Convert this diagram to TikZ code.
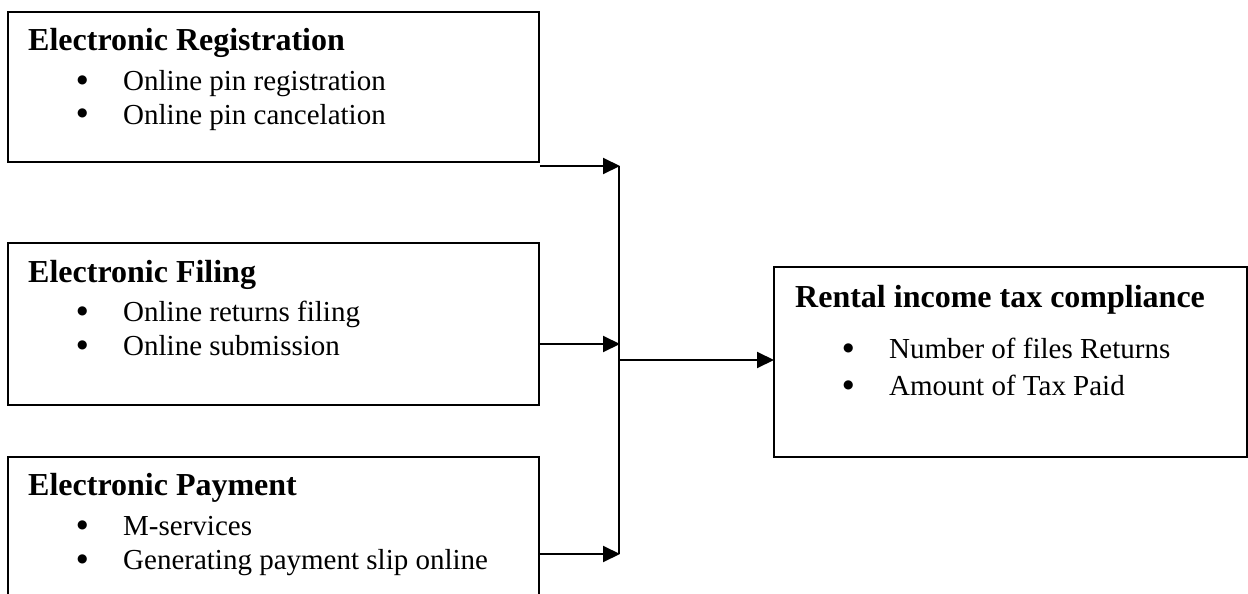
\documentclass[tikz,border=0pt]{standalone}
\usepackage{fontspec}
\setmainfont{Liberation Serif}
\newfontfamily\dejavu{DejaVu Sans}
\usetikzlibrary{arrows.meta}
\tikzset{
  box/.style={draw=black, line width=2pt, rectangle, inner sep=0pt, anchor=north west, fill=none},
  ttl/.style={inner sep=0pt, anchor=base west, font=\fontsize{32}{38}\selectfont\bfseries},
  itm/.style={inner sep=0pt, anchor=base west, font=\fontsize{29}{33}\selectfont},
  conn/.style={line width=2pt, draw=black},
  arr/.style={line width=2pt, draw=black, -{Triangle[length=17pt,width=16pt]}, shorten >=-1pt}
}
\newcommand{\bigdot}{\raisebox{7pt}{\dejavu\fontsize{12}{12}\selectfont ●}}
\newcommand{\bul}[1]{\makebox[46pt][l]{\bigdot}#1}
\begin{document}
\begin{tikzpicture}[x=1pt,y=-1pt]
\useasboundingbox (0,0) rectangle (1248,594);
\clip (0,0) rectangle (1248,594);
\fill[white] (0,0) rectangle (1248,594);

% boxes
\node[box, minimum width=531pt, minimum height=150pt] (b1) at (7,11) {};
\node[box, minimum width=531pt, minimum height=162pt] (b2) at (7,242) {};
\node[box, minimum width=531pt, minimum height=170pt] (b3) at (7,456) {};
\node[box, minimum width=473pt, minimum height=190pt] (b4) at (773,266) {};

% texts box 1
\node[ttl] (t1) at (28,51) {Electronic Registration};
\node[itm] (t1a) at (77,91) {\bul{Online pin registration}};
\node[itm] (t1b) at (77,124) {\bul{Online pin cancelation}};
% texts box 2
\node[ttl] (t2) at (28,282) {Electronic Filing};
\node[itm] (t2a) at (77,321) {\bul{Online returns filing}};
\node[itm] (t2b) at (77,355) {\bul{Online submission}};
% texts box 3
\node[ttl] (t3) at (28,495) {Electronic Payment};
\node[itm] (t3a) at (77,535) {\bul{M-services}};
\node[itm] (t3b) at (77,569) {\bul{Generating payment slip online}};
% texts box 4
\node[ttl] (t4) at (795,307) {Rental income tax compliance};
\node[itm] (t4a) at (843,358) {\bul{Number of files Returns}};
\node[itm] (t4b) at (843,395) {\bul{Amount of Tax Paid}};

% junction points
\coordinate (j1) at (619,166);
\coordinate (j2) at (619,344);
\coordinate (j3) at (619,554);
\coordinate (j4) at (619,360);

\draw[conn] (j1) -- (j3);
\draw[arr] (b1.east |- j1) -- (j1);
\draw[arr] (b2.east |- j2) -- (j2);
\draw[arr] (b3.east |- j3) -- (j3);
\draw[arr] (j4) -- (b4.west |- j4);
\end{tikzpicture}
\end{document}
